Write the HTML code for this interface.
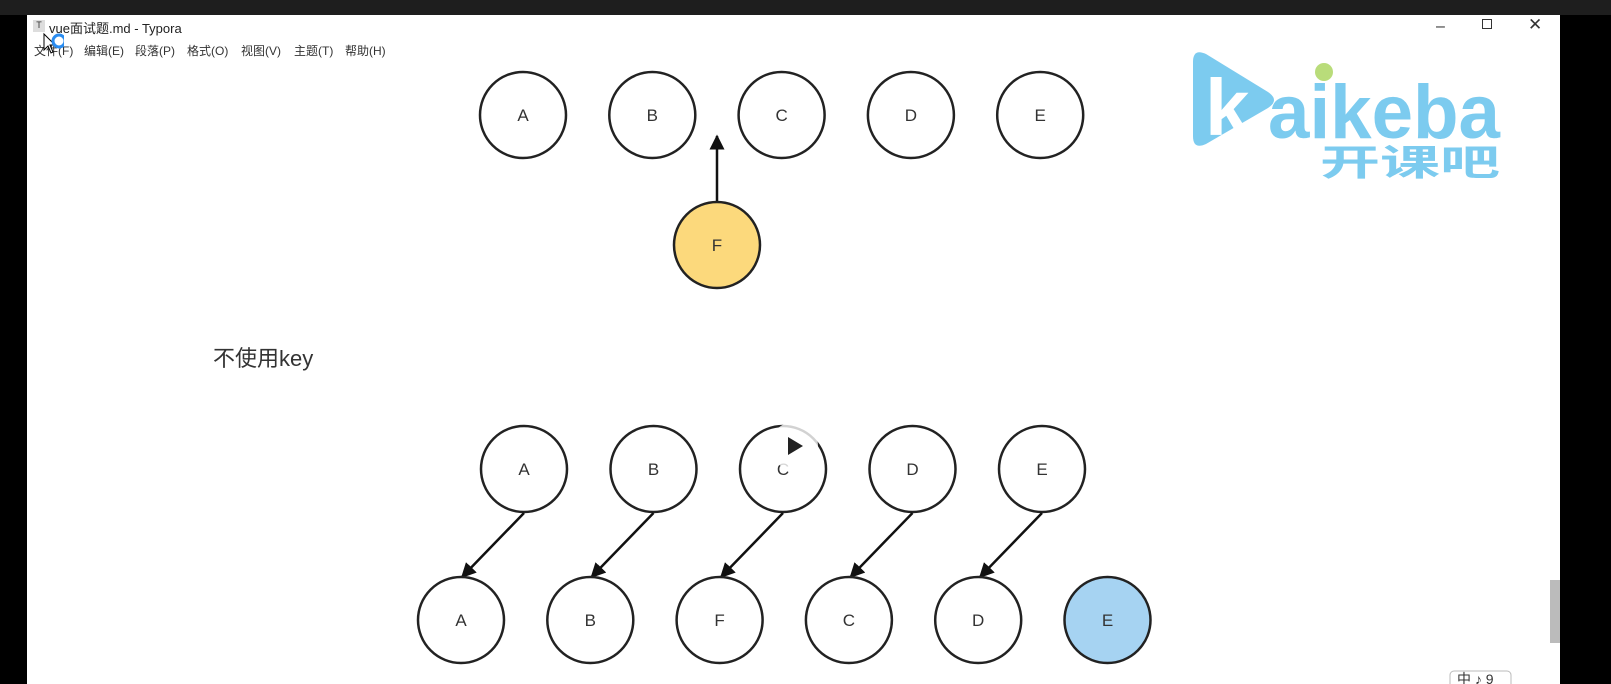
<!DOCTYPE html>
<html><head><meta charset="utf-8"><style>
body{margin:0;width:1611px;height:684px;overflow:hidden;background:#000;font-family:"Liberation Sans","Noto Sans CJK SC",sans-serif}
#topbar{position:absolute;left:0;top:0;width:1611px;height:15px;background:#1e1e1e}
#win{position:absolute;left:27px;top:15px;width:1533px;height:669px;background:#fff}
.t{position:absolute;font-size:12px;color:#333}
</style></head><body>
<div id="topbar"></div>
<div id="win"></div>
<svg width="1611" height="684" style="position:absolute;left:0;top:0">
<defs><marker id="ah" viewBox="0 0 10 10" refX="9" refY="5" markerWidth="6" markerHeight="6" orient="auto"><path d="M0,0L10,5L0,10z" fill="#111"/></marker></defs>
<g id="g"></g>
<g>
<path d="M1193,62 Q1193,48 1206,54 L1268,92 Q1280,100 1268,108 L1206,144 Q1193,150 1193,136 Z" fill="#7ccbef"/>
<text x="1205" y="135" font-size="80" font-weight="bold" fill="#fff" font-family="Liberation Sans">k</text>
<circle cx="1324" cy="72" r="9" fill="#b9dc7a"/>
<text x="1268" y="138" font-size="76" font-weight="bold" fill="#7ccbef" font-family="Liberation Sans" textLength="232" lengthAdjust="spacingAndGlyphs">aikeba</text>
<text x="1320" y="175" font-size="36" font-weight="bold" fill="#7ccbef" font-family="Noto Sans CJK SC,sans-serif" textLength="180" lengthAdjust="spacingAndGlyphs">开课吧</text>
</g>
<rect x="1550" y="580" width="10" height="63" fill="#bbb"/>
<rect x="1450" y="671" width="61" height="20" rx="4" fill="#fff" stroke="#bbb"/>
<text x="1457" y="684" font-size="14" fill="#333">中 ♪ 9</text>
<circle cx="794" cy="446" r="24" fill="#fff" opacity="0.8"/>
<path d="M788,437 L803,446 L788,455 Z" fill="#222"/>
</svg>
<div class="t" style="left:33px;top:20px;width:12px;height:12px;background:#ddd;font-size:9px;text-align:center">T</div>
<div class="t" style="left:49px;top:18px;font-size:13px;color:#222">vue面试题.md - Typora</div>
<div class="t" style="left:34px;top:42px">文件(F)</div>
<div class="t" style="left:84px;top:42px">编辑(E)</div>
<div class="t" style="left:135px;top:42px">段落(P)</div>
<div class="t" style="left:187px;top:42px">格式(O)</div>
<div class="t" style="left:241px;top:42px">视图(V)</div>
<div class="t" style="left:294px;top:42px">主题(T)</div>
<div class="t" style="left:345px;top:42px">帮助(H)</div>
<div class="t" style="left:1436px;top:18px;font-size:16px">–</div>
<div class="t" style="left:1482px;top:19px;width:8px;height:8px;border:1.5px solid #333"></div>
<div class="t" style="left:1528px;top:15px;font-size:17px">✕</div>
<div class="t" style="left:213px;top:341px;font-size:22px;color:#333">不使用key</div>
<svg width="22" height="22" style="position:absolute;left:42px;top:32px"><path d="M2,2 L2,18 L6,14 L9,21 L11,20 L8,13 L13,13 Z" fill="#fff" stroke="#000"/><circle cx="17" cy="9" r="6" fill="none" stroke="#2a8cf0" stroke-width="3"/></svg>
<script>
const topRow=["A","B","C","D","E"];
const midRow=["A","B","C","D","E"];
const botRow=["A","B","F","C","D","E"];
const ns="http://www.w3.org/2000/svg",g=document.getElementById('g');
const R=43;
function circ(x,y,label,fill,name){
 const c=document.createElementNS(ns,'circle');
 c.setAttribute('cx',x);c.setAttribute('cy',y);c.setAttribute('r',R);
 c.setAttribute('fill',fill);c.setAttribute('stroke','#222');c.setAttribute('stroke-width','2.5');
 
 
 g.appendChild(c);
 const t=document.createElementNS(ns,'text');
 t.setAttribute('x',x);t.setAttribute('y',y+6);t.setAttribute('text-anchor','middle');
 t.setAttribute('font-size','17');t.setAttribute('fill','#333');t.textContent=label;
 
 
 g.appendChild(t);
}
function arrow(x1,y1,x2,y2){
 const l=document.createElementNS(ns,'line');
 l.setAttribute('x1',x1);l.setAttribute('y1',y1);l.setAttribute('x2',x2);l.setAttribute('y2',y2);
 l.setAttribute('stroke','#111');l.setAttribute('stroke-width','2.5');l.setAttribute('marker-end','url(#ah)');
 
 
 g.appendChild(l);
}
topRow.forEach((s,i)=>circ(523+i*129.3,115,s,'#fff','top-node-'+s));
circ(717,245,'F','#fcd97c','new-node-f');
arrow(717,201,717,136);
midRow.forEach((s,i)=>{const x=524+i*129.5;circ(x,469,s,'#fff','old-node-'+s);arrow(x,513,x-62,577);});
botRow.forEach((s,i)=>circ(461+i*129.3,620,s,i==5?'#a6d3f2':'#fff','new-node-'+i));
</script>
</body></html>
